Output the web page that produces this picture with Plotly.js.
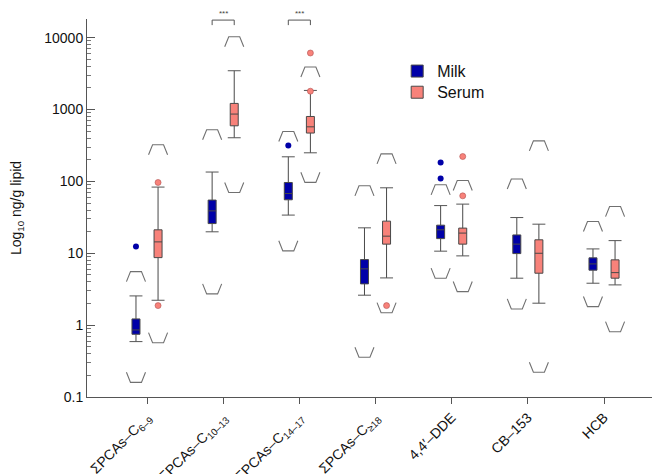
<!DOCTYPE html>
<html>
<head>
<meta charset="utf-8">
<script src="https://cdn.plot.ly/plotly-3.0.1.min.js"></script>
<style>html,body{margin:0;padding:0;background:#fff;}#chart{width:652px;height:474px;}</style>
</head>
<body>
<div id="chart"></div>
<script>
// ---- data (ng/g lipid) ----
const categories = ["ΣPCAs–C<sub>6–9</sub>", "ΣPCAs–C<sub>10–13</sub>", "ΣPCAs–C<sub>14–17</sub>", "ΣPCAs–C<sub>≥18</sub>", "4,4′–DDE", "CB–153", "HCB"];

const milkLow    = [0.59, 19.9, 34,   2.61, 10.7, 4.5,  3.83];
const milkQ1     = [0.746, 25.9, 55.5, 3.75, 16,  9.9,  5.82];
const milkMedian = [0.857, 38.9, 67.8, 6.07, 21.2, 13.4, 7.11];
const milkQ3     = [1.22, 55,   96.6, 8.17, 24.6, 18,   8.63];
const milkHigh   = [2.55, 135,  220,  22.6, 46.1, 31.4, 11.5];
const milkOutliers = [[12.4], [], [315], [], [183, 110], [], []];
const milkUpperBound = [5.56, 524, 496, 86.9, 89.8, 108, 27.7];
const milkLowerBound = [0.160, 2.72, 10.8, 0.357, 4.5, 1.68, 1.81];

const serumLow    = [2.22, 405,  250,  4.54, 9.2,  2.02, 3.63];
const serumQ1     = [8.7,  594,  471,  13.4, 13.4, 5.28, 4.5];
const serumMedian = [14.4, 865,  575,  17.3, 19.1, 10,   5.38];
const serumQ3     = [21.2, 1217, 801,  28,   22.4, 15.4, 8.1];
const serumHigh   = [83.4, 3467, 1845, 81.5, 48.3, 25.4, 15];
const serumOutliers = [[96.6, 1.87], [], [6120, 1800], [1.87], [222, 63], [], []];
const serumUpperBound = [324, 10300, 3908, 242, 103, 367, 44.7];
const serumLowerBound = [0.57, 70, 97, 1.49, 2.93, 0.221, 0.81];

const sigGroups = [1, 2];
const sigLabel = "***";

const yTickVals = [0.1, 1, 10, 100, 1000, 10000];
const yTickText = ["0.1", "1", "10", "100", "1000", "10000"];

// ---- styling ----
const MILK = "#0000a8", SERUM = "#f8827a";
const OFF = 0.145, BOXW = 0.105, CAPW = 0.085;
const TRAP_OUT = 0.125, TRAP_IN = 0.072, TRAP_H = 0.14;
const YTOP = 4.26;

const idx = categories.map((_, i) => i);
const traces = [];

function addGroup(name, legendId, color, off, low, q1, med, q3, high, outl, ub, lb, outStyle) {
  const xs = idx.map(i => i + off);
  traces.push({
    type: "box", name: name, legend: legendId, x: xs, q1: q1, median: med, q3: q3,
    lowerfence: low, upperfence: high, width: BOXW, whiskerwidth: 0,
    fillcolor: color, line: {color: "#484848", width: 1}, boxpoints: false,
    hoverinfo: "skip", showlegend: true
  });
  // whisker caps
  const cx = [], cy = [];
  idx.forEach(i => {
    [low[i], high[i]].forEach(v => { cx.push(xs[i] - CAPW, xs[i] + CAPW, null); cy.push(v, v, null); });
  });
  traces.push({type: "scatter", mode: "lines", x: cx, y: cy, line: {color: "#555", width: 1}, showlegend: false, hoverinfo: "skip"});
  // trapezoid bounds
  const tx = [], ty = [];
  idx.forEach(i => {
    const f = Math.pow(10, TRAP_H);
    tx.push(xs[i] - TRAP_OUT, xs[i] - TRAP_IN, xs[i] + TRAP_IN, xs[i] + TRAP_OUT, null);
    ty.push(ub[i] / f, ub[i], ub[i], ub[i] / f, null);
    tx.push(xs[i] - TRAP_OUT, xs[i] - TRAP_IN, xs[i] + TRAP_IN, xs[i] + TRAP_OUT, null);
    ty.push(lb[i] * f, lb[i], lb[i], lb[i] * f, null);
  });
  traces.push({type: "scatter", mode: "lines", x: tx, y: ty, line: {color: "#707070", width: 1.1}, showlegend: false, hoverinfo: "skip"});
  // outliers
  const ox = [], oy = [];
  idx.forEach(i => outl[i].forEach(v => { ox.push(xs[i]); oy.push(v); }));
  traces.push({type: "scatter", mode: "markers", x: ox, y: oy, marker: outStyle, showlegend: false, hoverinfo: "skip", cliponaxis: false});
}

addGroup("Milk", "legend", MILK, -OFF, milkLow, milkQ1, milkMedian, milkQ3, milkHigh, milkOutliers, milkUpperBound, milkLowerBound,
  {color: MILK, size: 6, line: {width: 0}});
addGroup("Serum", "legend2", SERUM, OFF, serumLow, serumQ1, serumMedian, serumQ3, serumHigh, serumOutliers, serumUpperBound, serumLowerBound,
  {color: SERUM, size: 6, line: {color: "#b05050", width: 0.6}});

// significance brackets
const bx = [], by = [];
const topV = Math.pow(10, YTOP - 0.015), legV = Math.pow(10, YTOP - 0.085);
sigGroups.forEach(g => { bx.push(g - OFF, g - OFF, g + OFF, g + OFF, null); by.push(legV, topV, topV, legV, null); });
traces.push({type: "scatter", mode: "lines", x: bx, y: by, line: {color: "#555", width: 1}, showlegend: false, hoverinfo: "skip"});

const annotations = sigGroups.map(g => ({
  x: g, y: YTOP - 0.015, xref: "x", yref: "y", text: sigLabel, showarrow: false,
  yanchor: "bottom", yshift: 0, font: {size: 8, color: "#444"}
}));

const legendBase = {xanchor: "left", yanchor: "middle", bgcolor: "rgba(0,0,0,0)", font: {size: 16}};

const layout = {
  width: 652, height: 474,
  margin: {l: 87, r: 0, t: 19, b: 77},
  paper_bgcolor: "#fff", plot_bgcolor: "#fff",
  font: {family: "Liberation Sans, Arial, sans-serif", color: "#111", size: 14},
  boxmode: "overlay",
  xaxis: {
    type: "linear", range: [-0.788, 6.63], tickvals: idx, ticktext: categories,
    tickangle: -45, ticks: "outside", ticklen: 6, tickcolor: "#555",
    showline: true, linecolor: "#555", linewidth: 1, showgrid: false, zeroline: false,
    tickfont: {size: 14}
  },
  yaxis: {
    type: "log", range: [-1, YTOP], tickvals: yTickVals, ticktext: yTickText,
    ticks: "inside", ticklen: 8, tickcolor: "#555",
    minor: {ticks: "inside", ticklen: 4, tickcolor: "#777", dtick: "D1", showgrid: false},
    showline: true, linecolor: "#555", linewidth: 1, showgrid: false, zeroline: false,
    tickfont: {size: 14},
    title: {text: "Log<sub>10</sub> ng/g lipid", font: {size: 14}, standoff: 19}
  },
  legend: Object.assign({x: 0.549, y: 0.862}, legendBase),
  legend2: Object.assign({x: 0.549, y: 0.806}, legendBase),
  annotations: annotations,
  showlegend: true
};

Plotly.newPlot("chart", traces, layout, {staticPlot: true, displayModeBar: false});
</script>
</body>
</html>
